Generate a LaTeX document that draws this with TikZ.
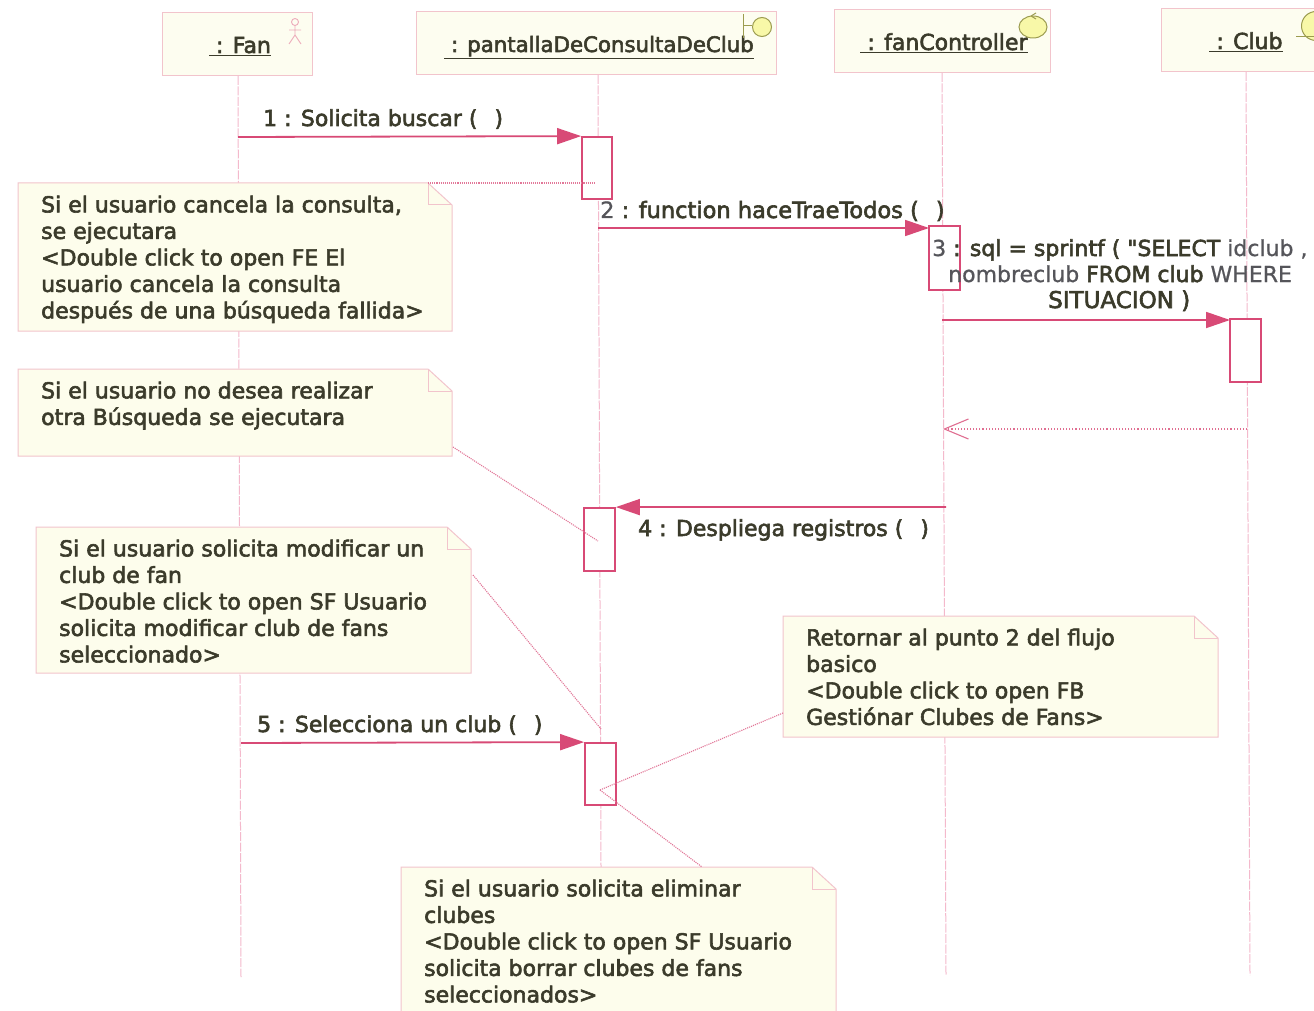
\documentclass[tikz,border=0pt]{standalone}
\usepackage{fontspec}
\setmainfont[FakeBold=2.6,Ligatures=TeXOff]{DejaVu Sans}
\newfontfamily\lightf[FakeBold=0.8]{DejaVu Sans}
\usetikzlibrary{arrows.meta}
\definecolor{msg}{HTML}{D84A76}
\definecolor{life}{HTML}{F4B9CC}
\definecolor{edge}{HTML}{F2C4CC}
\definecolor{notefill}{HTML}{FDFDEC}
\definecolor{headfill}{HTML}{FDFDF0}
\definecolor{ink}{HTML}{3B3B2B}
\definecolor{inkgrey}{HTML}{55555A}
\definecolor{iconfill}{HTML}{F8F8A8}
\definecolor{icondark}{HTML}{9C9C50}
\newcommand{\txtsize}{\fontsize{22}{26.5}\selectfont}
\newcommand{\pantsize}{\fontsize{21.3}{26.5}\selectfont}
\newcommand{\parengap}{\hspace*{17pt}}
\tikzset{
  x=1pt,y=-1pt,
  headbox/.style={draw=edge,fill=headfill,line width=1pt,inner sep=0,rectangle},
  actbox/.style={draw=msg,fill=white,line width=1.8pt,inner sep=0,rectangle},
  notebody/.style={draw=edge,fill=notefill,line width=1pt},
  notetext/.style={text=ink,font=\txtsize,align=left,anchor=north west,inner sep=0},
  headtext/.style={text=ink,font=\txtsize,anchor=base,inner sep=0},
  msgtext/.style={text=ink,font=\txtsize,inner sep=0,anchor=base west},
  lifeline/.style={draw=life,line width=1pt,dash pattern=on 9pt off 1.5pt},
  message/.style={draw=msg,line width=1.8pt,-{Triangle[length=24pt,width=16pt,fill=msg]}},
  retmsg/.style={draw=msg!80,line width=1.1pt,dotted,-{Straight Barb[length=24pt,width=20pt,line width=1.1pt]}},
  notelink/.style={draw=msg!75,line width=1.1pt,densely dotted},
}
\newcommand{\rectnode}[6]{%
  \pgfmathsetmacro{\rw}{#4-#2}\pgfmathsetmacro{\rh}{#5-#3}%
  \node[#6,minimum width=\rw pt,minimum height=\rh pt] (#1) at ({(#2+#4)/2},{(#3+#5)/2}) {};}
\newcommand{\notebox}[6]{%
  \draw[notebody] (#2,#3) -- ({#4-24},#3) -- (#4,{#3+22}) -- (#4,#5) -- (#2,#5) -- cycle;
  \draw[notebody,fill=none] ({#4-24},#3) -- ({#4-24},{#3+22}) -- (#4,{#3+22});
  \coordinate (#1) at ({#4-24},#3);
  \node[notetext] (#1text) at ({#2+23},{#3+12.5}) {#6};}
\begin{document}
\begin{tikzpicture}
\useasboundingbox (0,0) rectangle (1314,1011);
\clip (0,0) rectangle (1314,1011);
\fill[white] (0,0) rectangle (1314,1011);
% header boxes
\rectnode{fan}{162}{13}{312}{76}{headbox}
\rectnode{pant}{416}{12}{776}{75}{headbox}
\rectnode{ctrl}{834}{10}{1050}{73}{headbox}
\rectnode{club}{1161}{9}{1340}{72}{headbox}
\node[headtext] (fanlbl) at (240,53) {\underline{\ : Fan}};
\node[headtext,font=\pantsize] (pantlbl) at (599,52) {\underline{\ : pantallaDeConsultaDeClub}};
\node[headtext] (ctrllbl) at (944,50) {\underline{\ : fanController}};
\node[headtext] (clublbl) at (1246,49) {\underline{\ : Club}};
% lifeline ends
\coordinate (fanend) at (241,977);
\coordinate (pantend) at (601,867);
\coordinate (ctrlend) at (946,975);
\coordinate (clubend) at (1250,975);
\coordinate (fantop) at (238,76);
\coordinate (panttop) at (598,75);
\coordinate (ctrltop) at (942,73);
\coordinate (clubtop) at (1246,72);
\draw[lifeline] (fantop) -- (fanend);
\draw[lifeline] (panttop) -- (pantend);
\draw[lifeline] (ctrltop) -- (ctrlend);
\draw[lifeline] (clubtop) -- (clubend);
% icons
\draw[edge!80!msg,line width=.9pt] (295,22) circle (3.5);
\draw[edge!80!msg,line width=.9pt] (295,25.5) -- (295,35) (289,30) -- (301,30) (289,44) -- (295,35) -- (301,44);
\draw[icondark,line width=1pt] (743,14) -- (743,38) (743,26) -- (752,26);
\draw[icondark,fill=iconfill,line width=1pt] (762,27) circle (9.5);
\draw[icondark,fill=iconfill,line width=1pt] (1033,27) ellipse (14 and 11);
\draw[icondark,line width=1pt] (1031,16) -- (1036,13) (1031,16) -- (1036,19);
\draw[icondark,fill=iconfill,line width=1pt] (1316,26) circle (14.5);
\draw[icondark,line width=1pt] (1296,37) -- (1314,37);
% notes
\notebox{nA}{18}{183}{452}{331}{Si el usuario cancela la consulta,\\se ejecutara\\<Double click to open FE El\\usuario cancela la consulta\\después de una búsqueda fallida>}
\notebox{nB}{18}{369}{452}{456}{Si el usuario no desea realizar\\otra Búsqueda se ejecutara}
\notebox{nC}{36}{527}{471}{673}{Si el usuario solicita modificar un\\club de fan\\<Double click to open SF Usuario\\solicita modificar club de fans\\seleccionado>}
\notebox{nD}{783}{616}{1218}{737}{Retornar al punto 2 del flujo\\basico\\<Double click to open FB\\Gestiónar Clubes de Fans>}
\notebox{nE}{401}{867}{836}{1040}{Si el usuario solicita eliminar\\clubes\\<Double click to open SF Usuario\\solicita borrar clubes de fans\\seleccionados>}
% activations
\rectnode{aA}{582}{137}{612}{199}{actbox}
\rectnode{aB}{929}{226}{960}{290}{actbox}
\rectnode{aC}{1230}{319}{1261}{382}{actbox}
\rectnode{aD}{584}{508}{615}{571}{actbox}
\rectnode{aE}{585}{743}{616}{805}{actbox}
% note links
\coordinate (lkA) at (595,183);
\coordinate (nBedge) at (453,447);
\coordinate (lkB) at (598,541);
\coordinate (nCedge) at (473,575);
\coordinate (lkC) at (601,729);
\coordinate (nDedge) at (783,713);
\coordinate (lkD) at (600,790);
\coordinate (nEedge) at (702,867);
\draw[notelink] (nA) -- (lkA);
\draw[notelink] (nBedge) -- (lkB);
\draw[notelink] (nCedge) -- (lkC);
\draw[notelink] (nDedge) -- (lkD);
\draw[notelink] (lkD) -- (nEedge);
% messages
\coordinate (mAs) at (238,137);
\coordinate (mBs) at (598,228);
\coordinate (mBe) at (929,228);
\coordinate (mCs) at (942,320);
\coordinate (mCe) at (1230,320);
\coordinate (mRs) at (1247,429);
\coordinate (mRe) at (943,429);
\coordinate (mDs) at (946,507);
\coordinate (mEs) at (241,743);
\draw[message] (mAs) -- (aA.north west);
\draw[message] (mBs) -- (mBe);
\draw[message] (mCs) -- (mCe);
\draw[retmsg] (mRs) -- (mRe);
\draw[message] (mDs) -- (aD.north east);
\draw[message] (mEs) -- (aE.north west);
% message labels
\node[msgtext] (tA) at (263,126) {1 : Solicita buscar (\parengap)};
\node[msgtext,font=\fontsize{22.5}{26.5}\selectfont] (tB) at (600,218) {{\lightf\color{inkgrey}2} : function haceTraeTodos (\parengap)};
\node[msgtext] (tC1) at (932,256) {{\lightf\color{inkgrey}3} : sql = sprintf ( "SELECT {\lightf\color{inkgrey}idclub ,}};
\node[msgtext] (tC2) at (948,282) {{\lightf\color{inkgrey}nombreclub} FROM club {\lightf\color{inkgrey}WHERE}};
\node[msgtext,font=\fontsize{23}{26.5}\selectfont] (tC3) at (1048,308) {SITUACION )};
\node[msgtext] (tD) at (638,536) {4 : Despliega registros (\parengap)};
\node[msgtext] (tE) at (257,732) {5 : Selecciona un club (\parengap)};
\end{tikzpicture}
\end{document}
